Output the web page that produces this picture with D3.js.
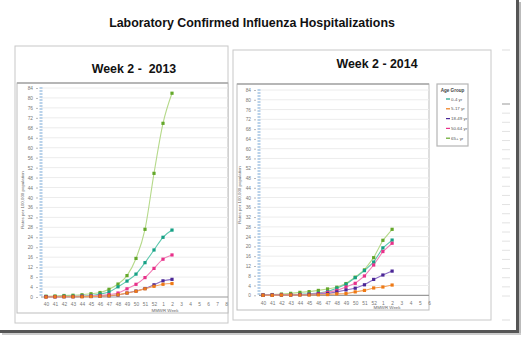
<!DOCTYPE html>
<html>
<head>
<meta charset="utf-8">
<script src="https://cdn.jsdelivr.net/npm/d3@7"></script>
<style>
  html, body { margin: 0; padding: 0; background: #fff; }
  svg { display: block; font-family: "Liberation Sans", Arial, sans-serif; }
</style>
</head>
<body>
<svg id="chart" width="521" height="339"></svg>
<script>
// ---------- DATA ----------
const mainTitle = "Laboratory Confirmed Influenza Hospitalizations";
const seriesNames = ["0-4 yr", "5-17 yr", "18-49 yr", "50-64 yr", "65+ yr"];
const yTicks = [0, 4, 8, 12, 16, 20, 24, 28, 32, 36, 40, 44, 48, 52, 56, 60, 64, 68, 72, 76, 80, 84];

// 2012-13 season (MMWR weeks 40 .. 8)
const weeks2013 = ["40","41","42","43","44","45","46","47","48","49","50","51","52","1","2","3","4","5","6","7","8"];
const age04_2013   = [0.2, 0.2, 0.3, 0.3, 0.4, 0.6, 1.2, 2.0, 4.1, 6.4, 9.2, 13.8, 18.9, 24.0, 26.9];
const age517_2013  = [0.0, 0.1, 0.1, 0.1, 0.1, 0.2, 0.3, 0.5, 0.9, 1.6, 2.3, 3.3, 4.3, 5.1, 5.4];
const age1849_2013 = [0.1, 0.1, 0.1, 0.1, 0.2, 0.2, 0.3, 0.5, 0.8, 1.6, 2.4, 3.4, 4.9, 6.5, 7.1];
const age5064_2013 = [0.1, 0.1, 0.2, 0.2, 0.3, 0.4, 0.6, 1.0, 1.6, 3.3, 5.1, 7.8, 11.5, 15.2, 16.9];
const age65_2013   = [0.3, 0.4, 0.6, 0.7, 0.9, 1.3, 1.8, 3.1, 5.2, 8.6, 15.5, 27.2, 49.7, 69.8, 81.9];

// 2013-14 season (MMWR weeks 40 .. 6)
const weeks2014 = ["40","41","42","43","44","45","46","47","48","49","50","51","52","1","2","3","4","5","6"];
const age04_2014   = [0.1, 0.1, 0.2, 0.3, 0.4, 0.6, 0.9, 1.5, 2.9, 4.5, 7.2, 10.1, 13.6, 19.4, 22.6];
const age517_2014  = [0.0, 0.0, 0.1, 0.1, 0.1, 0.1, 0.2, 0.3, 0.6, 0.7, 1.4, 2.0, 3.0, 3.4, 4.2];
const age1849_2014 = [0.0, 0.1, 0.1, 0.1, 0.2, 0.3, 0.5, 0.7, 1.4, 2.2, 2.9, 4.3, 6.5, 8.3, 9.9];
const age5064_2014 = [0.1, 0.1, 0.2, 0.2, 0.3, 0.4, 0.7, 1.2, 2.0, 3.4, 4.9, 7.9, 12.4, 17.9, 21.3];
const age65_2014   = [0.2, 0.3, 0.5, 0.8, 1.2, 1.5, 2.0, 2.6, 3.3, 4.8, 7.4, 10.4, 15.4, 22.5, 27.0];

// ---------- STYLE ----------
const lineColors   = ["#5cc7ad", "#f5a25a", "#8a6cc4", "#f27fb6", "#b5d98a"];
const markerColors = ["#16a085", "#ee7a16", "#4b2796", "#e8308a", "#64a82a"];

const svg = d3.select("#chart");

// outer shadow of the screenshot
svg.append("rect").attr("x", 516).attr("y", 0).attr("width", 3).attr("height", 333).attr("fill", "#555");
svg.append("rect").attr("x", 0).attr("y", 330).attr("width", 519).attr("height", 3).attr("fill", "#555");
svg.append("rect").attr("x", 519).attr("y", 2).attr("width", 2).attr("height", 333).attr("fill", "#bbb");
svg.append("rect").attr("x", 2).attr("y", 333).attr("width", 519).attr("height", 2).attr("fill", "#ccc");

svg.append("text")
  .attr("x", 252).attr("y", 27)
  .attr("text-anchor", "middle")
  .attr("font-weight", "bold").attr("font-size", 12.4)
  .attr("fill", "#111")
  .text(mainTitle);

// stray fragments of a third chart on the right
const fragScale = d3.scaleLinear().domain([0, 21]).range([104, 296]);
d3.range(0, 22).forEach(i => {
  svg.append("line").attr("x1", 502).attr("x2", 510)
    .attr("y1", fragScale(i)).attr("y2", fragScale(i))
    .attr("stroke", i === 0 ? "#999" : "#e2e2e2").attr("stroke-width", 1);
});
svg.append("line").attr("x1", 502).attr("x2", 510).attr("y1", 50).attr("y2", 50).attr("stroke", "#ddd");
svg.append("line").attr("x1", 502).attr("x2", 510).attr("y1", 320).attr("y2", 320).attr("stroke", "#ddd");

function drawPanel(cfg) {
  const g = svg.append("g");
  // outer frame
  g.append("rect").attr("x", cfg.outer[0]).attr("y", cfg.outer[1])
    .attr("width", cfg.outer[2] - cfg.outer[0]).attr("height", cfg.outer[3] - cfg.outer[1])
    .attr("fill", "#fff").attr("stroke", "#c8c8c8").attr("stroke-width", 1);
  // inner plot box
  g.append("rect").attr("x", cfg.inner[0]).attr("y", cfg.inner[1])
    .attr("width", cfg.inner[2] - cfg.inner[0]).attr("height", cfg.inner[3] - cfg.inner[1])
    .attr("fill", "#fff").attr("stroke", "#bdbdbd").attr("stroke-width", 1);
  g.append("line").attr("x1", cfg.inner[0]).attr("x2", cfg.inner[2])
    .attr("y1", cfg.inner[1]).attr("y2", cfg.inner[1])
    .attr("stroke", "#a8a8a8").attr("stroke-width", 1.5);

  // title
  g.append("text").attr("x", cfg.title[0]).attr("y", cfg.title[1])
    .attr("text-anchor", "middle").attr("font-weight", "bold").attr("font-size", 12.4)
    .attr("fill", "#111").attr("xml:space", "preserve").style("white-space", "pre")
    .text(cfg.titleText);

  const x = d3.scalePoint().domain(cfg.weeks).range(cfg.xRange);
  const y = d3.scaleLinear().domain([0, 84]).range(cfg.yRange);

  // gridlines
  g.append("g").selectAll("line").data(yTicks.slice(1)).join("line")
    .attr("x1", cfg.yAxisX).attr("x2", cfg.inner[2])
    .attr("y1", d => y(d)).attr("y2", d => y(d))
    .attr("stroke", "#ececec").attr("stroke-width", 1);

  // y axis
  const yAxis = d3.axisLeft(y).tickValues(yTicks).tickSize(2).tickPadding(3);
  const ya = g.append("g").attr("transform", `translate(${cfg.yAxisX - 3},0)`).call(yAxis);
  ya.select(".domain").remove();
  ya.selectAll(".tick line").attr("stroke", "#bbb");
  ya.selectAll(".tick text").attr("font-size", 4.8).attr("fill", "#777")
    .attr("font-family", "Liberation Sans, Arial, sans-serif");
  g.append("line").attr("x1", cfg.yAxisX).attr("x2", cfg.yAxisX)
    .attr("y1", cfg.yRange[1] - 1).attr("y2", cfg.yRange[0])
    .attr("stroke", "#b9d2ea").attr("stroke-width", 3).attr("stroke-dasharray", "2,1");

  // x axis
  const xAxis = d3.axisBottom(x).tickSize(0).tickPadding(6);
  const xa = g.append("g").attr("transform", `translate(0,${cfg.yRange[0]})`).call(xAxis);
  xa.select(".domain").remove();
  xa.selectAll(".tick text").attr("font-size", 4.8).attr("fill", "#777")
    .attr("font-family", "Liberation Sans, Arial, sans-serif");
  g.append("line").attr("x1", cfg.yAxisX).attr("x2", cfg.inner[2])
    .attr("y1", cfg.yRange[0]).attr("y2", cfg.yRange[0])
    .attr("stroke", "#9a9a9a").attr("stroke-width", 1.2);

  // axis titles
  g.append("text").attr("transform", `translate(${cfg.yTitle[0]},${cfg.yTitle[1]}) rotate(-90)`)
    .attr("text-anchor", "middle").attr("font-size", 4.4).attr("fill", "#666")
    .text("Rates per 100,000 population");
  g.append("text").attr("x", cfg.xTitle[0]).attr("y", cfg.xTitle[1])
    .attr("text-anchor", "middle").attr("font-size", 4.4).attr("fill", "#666")
    .text("MMWR Week");

  // series
  const line = d3.line().x((d, i) => x(cfg.weeks[i])).y(d => y(d)).curve(cfg.curve);
  const order = [4, 0, 3, 2, 1];
  order.forEach(si => {
    const vals = cfg.series[si];
    g.append("path").datum(vals).attr("d", line)
      .attr("fill", "none").attr("stroke", lineColors[si]).attr("stroke-width", 1.1);
  });
  order.forEach(si => {
    const vals = cfg.series[si];
    g.append("g").selectAll("rect").data(vals).join("rect")
      .attr("x", (d, i) => x(cfg.weeks[i]) - 1.6)
      .attr("y", d => y(d) - 1.6)
      .attr("width", 3.2).attr("height", 3.2)
      .attr("fill", markerColors[si]);
  });

  // legend
  if (cfg.legend) {
    const L = cfg.legend;
    const lg = g.append("g");
    lg.append("rect").attr("x", L[0]).attr("y", L[1]).attr("width", L[2]).attr("height", L[3])
      .attr("fill", "#fff").attr("stroke", "#b5b5b5").attr("stroke-width", 1.2);
    lg.append("text").attr("x", L[0] + L[2] / 2).attr("y", L[1] + 8)
      .attr("text-anchor", "middle").attr("font-size", 4.6).attr("font-weight", "bold")
      .attr("fill", "#444").text("Age Group");
    seriesNames.forEach((name, i) => {
      const yy = L[1] + 15 + i * 9.8;
      lg.append("line").attr("x1", L[0] + 9).attr("x2", L[0] + 13)
        .attr("y1", yy).attr("y2", yy).attr("stroke", markerColors[i]).attr("stroke-width", 1.2);
      lg.append("text").attr("x", L[0] + 14).attr("y", yy + 1.6)
        .attr("font-size", 4.4).attr("fill", "#555").text(name);
    });
  }
}

drawPanel({
  titleText: "Week 2 -  2013",
  weeks: weeks2013,
  series: [age04_2013, age517_2013, age1849_2013, age5064_2013, age65_2013],
  outer: [15, 46, 228, 323],
  inner: [17, 83, 228, 313],
  title: [134, 73],
  xRange: [46, 226],
  yRange: [297, 88],
  yAxisX: 41,
  yTitle: [24, 200],
  xTitle: [165, 312],
  curve: d3.curveMonotoneX,
  legend: null
});

drawPanel({
  titleText: "Week 2 - 2014",
  weeks: weeks2014,
  series: [age04_2014, age517_2014, age1849_2014, age5064_2014, age65_2014],
  outer: [233, 50, 491, 320],
  inner: [237, 84, 429, 310],
  title: [377, 68],
  xRange: [263, 429],
  yRange: [295.3, 90],
  yAxisX: 259,
  yTitle: [241, 195],
  xTitle: [387, 309],
  curve: d3.curveLinear,
  legend: [437, 84, 31, 62]
});
</script>
</body>
</html>
